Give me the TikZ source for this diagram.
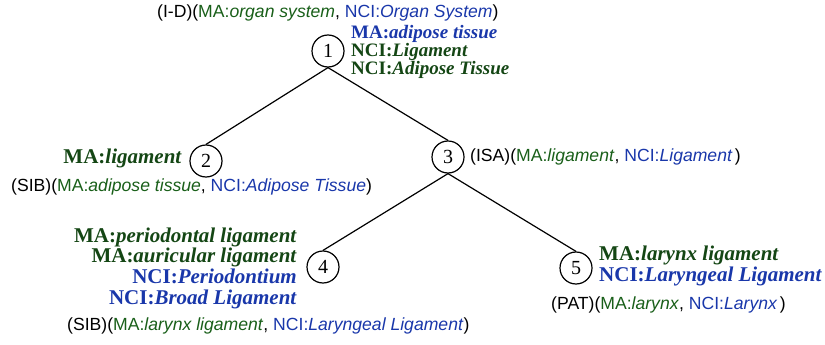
\documentclass[tikz,border=0pt]{standalone}
\usepackage{fontspec}
\setmainfont{Liberation Serif}
\setsansfont{Liberation Sans}
\usepackage{xcolor}
\usetikzlibrary{positioning}

\definecolor{magreen}{RGB}{25,95,25}
\definecolor{madark}{RGB}{20,70,20}
\definecolor{nciblue}{RGB}{25,55,170}

% relation line: (REL)(MA:..., NCI:...)
\newcommand{\relpair}[3]{(#1)({\color{magreen}MA:\textit{#2}}, {\color{nciblue}NCI:\textit{#3}})}
% bold mapping terms
\newcommand{\bterm}[2]{\textbf{#1:\textit{#2}}}

\tikzset{
  concept/.style={draw, circle, minimum size=32pt, inner sep=0pt, line width=1.2pt,
    font=\fontsize{20}{20}\selectfont},
  relnote/.style={inner sep=0pt, anchor=west, font=\sffamily\fontsize{17.6}{18}\selectfont},
  mapnote/.style={inner sep=0pt, font=\fontsize{21}{20.7}\selectfont},
  edge/.style={line width=1.2pt}
}

\begin{document}
\begin{tikzpicture}[x=1pt,y=-1pt]
        \useasboundingbox (0,0) rectangle (825,345);
        % concepts
        \node[concept] (n1) at (328,51) {1};
        \node[concept] (n2) at (206,161) {2};
        \node[concept] (n3) at (448,157) {3};
        \node[concept] (n4) at (323,267) {4};
        \node[concept] (n5) at (576,268) {5};
        % tree
        \draw[edge] (n1.south) -- (n2.north);
        \draw[edge] (n1.south) -- (n3.north);
        \draw[edge] (n3.south) -- (n4.north);
        \draw[edge] (n3.south) -- (n5.north);
        % relations
        \node[relnote] (r1) at (157,13) {\relpair{I-D}{organ system}{Organ System}};
        \node[relnote] (r2) at (11,187) {\relpair{SIB}{adipose tissue}{Adipose Tissue}};
        \node[relnote] (r3) at (470,157) {\relpair{ISA}{ligament}{Ligament\,}};
        \node[relnote] (r4) at (67,326) {\relpair{SIB}{larynx ligament}{Laryngeal Ligament}};
        \node[relnote] (r5) at (551,305) {\relpair{PAT}{larynx}{Larynx\,}};
        % mappings
        \node[mapnote, anchor=west, align=left, font=\fontsize{19}{18}\selectfont] (m1) at (351,52)
          {{\color{nciblue}\bterm{MA}{adipose tissue}}\\
           {\color{madark}\bterm{NCI}{Ligament}}\\
           {\color{madark}\bterm{NCI}{Adipose Tissue}}};
        \node[mapnote, anchor=east] (m2) at (182,158) {\color{madark}\bterm{MA}{ligament}};
        \node[mapnote, anchor=east, align=right] (m4) at (297,268)
          {{\color{madark}\bterm{MA}{periodontal ligament}}\\
           {\color{madark}\bterm{MA}{auricular ligament}}\\
           {\color{nciblue}\bterm{NCI}{Periodontium}}\\
           {\color{nciblue}\bterm{NCI}{Broad Ligament}}};
        \node[mapnote, anchor=west, align=left] (m5) at (599,266)
          {{\color{madark}\bterm{MA}{larynx ligament}}\\
           {\color{nciblue}\bterm{NCI}{Laryngeal Ligament}}};
      \end{tikzpicture}
\end{document}
